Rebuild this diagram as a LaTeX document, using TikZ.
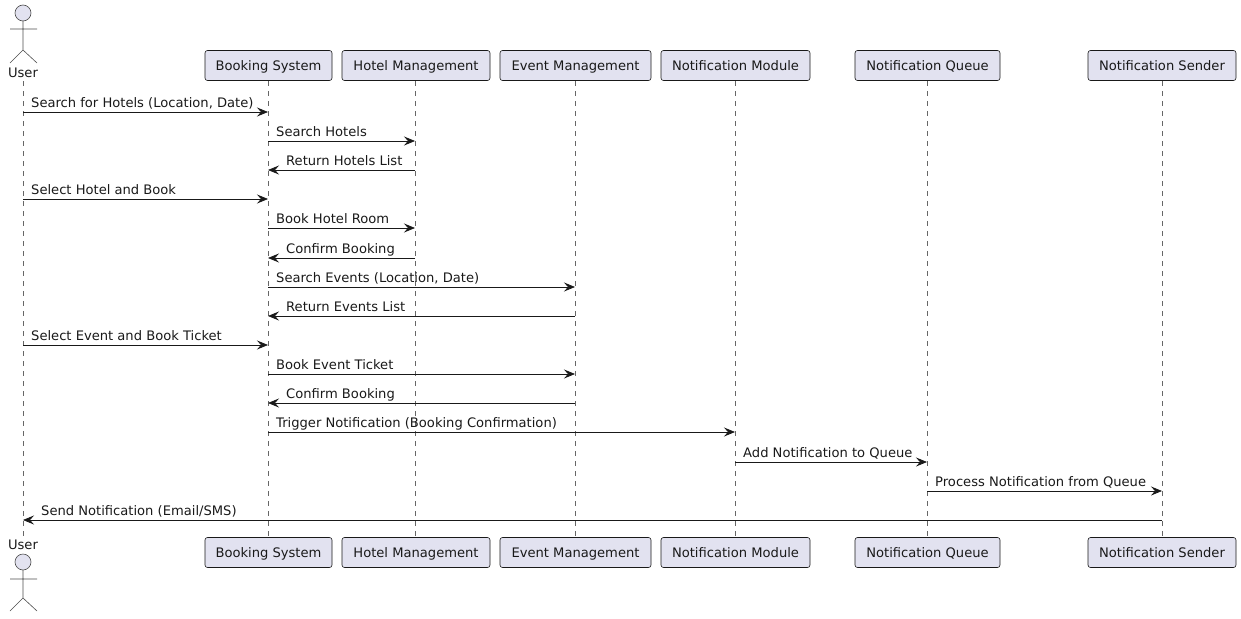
\documentclass[tikz,border=0pt]{standalone}
\usepackage{fontspec}
\setmainfont{DejaVu Sans}
\usetikzlibrary{arrows.meta}
\begin{document}
\begin{tikzpicture}[x=1pt,y=-1pt,
  part/.style={draw=black!90,fill=partfill,rounded corners=2.5pt,line width=0.6pt,
    minimum height=30pt,inner sep=0pt,text height=12pt,text depth=2pt,
    font=\fontsize{13.1}{15}\selectfont,text=black!90},
  lifeline/.style={draw=black!60,line width=0.5pt,dash pattern=on 5pt off 5pt},
  msg/.style={draw=black!90,line width=0.8pt,-{Stealth[length=11pt,width=9pt,inset=4pt]}},
  lbl/.style={anchor=base west,inner sep=0pt,font=\fontsize{13.1}{15}\selectfont,text=black!90},
  actorstyle/.style={draw=black!70,line width=0.6pt},
  actorlbl/.style={inner sep=0pt,font=\fontsize{13.1}{15}\selectfont,text=black!90}]
\definecolor{partfill}{HTML}{E2E2F0}
\useasboundingbox (0,0) rectangle (1241,618);

% participant boxes (top)
\node[part,minimum width=127pt] (bsT) at (268.5,65.5) {Booking System};
\node[part,minimum width=148pt] (hmT) at (416,65.5) {Hotel Management};
\node[part,minimum width=151pt] (emT) at (575.5,65.5) {Event Management};
\node[part,minimum width=149pt] (nmT) at (735.5,65.5) {Notification Module};
\node[part,minimum width=145pt] (nqT) at (927.5,65.5) {Notification Queue};
\node[part,minimum width=148pt] (nsT) at (1162,65.5) {Notification Sender};
% participant boxes (bottom)
\node[part,minimum width=127pt] (bsB) at (268.5,552.5) {Booking System};
\node[part,minimum width=148pt] (hmB) at (416,552.5) {Hotel Management};
\node[part,minimum width=151pt] (emB) at (575.5,552.5) {Event Management};
\node[part,minimum width=149pt] (nmB) at (735.5,552.5) {Notification Module};
\node[part,minimum width=145pt] (nqB) at (927.5,552.5) {Notification Queue};
\node[part,minimum width=148pt] (nsB) at (1162,552.5) {Notification Sender};

% lifeline coordinates
\coordinate (U) at (23,81);
\coordinate (UB) at (23,537);
\coordinate (BS) at (268,81);
\coordinate (HM) at (415,81);
\coordinate (EM) at (575,81);
\coordinate (NM) at (735,81);
\coordinate (NQ) at (927,81);
\coordinate (NS) at (1162,81);

% lifelines
\draw[lifeline] (U) -- (UB);
\draw[lifeline] (BS) -- (BS|-bsB.north);
\draw[lifeline] (HM) -- (HM|-hmB.north);
\draw[lifeline] (EM) -- (EM|-emB.north);
\draw[lifeline] (NM) -- (NM|-nmB.north);
\draw[lifeline] (NQ) -- (NQ|-nqB.north);
\draw[lifeline] (NS) -- (NS|-nsB.north);

% actor top
\draw[actorstyle,fill=partfill] (23,13) circle (8pt);
\draw[actorstyle] (23,21) -- (23,50) (10,29) -- (37,29) (10,63) -- (23,50) -- (37,63);
\node[actorlbl] (userT) at (23,73) {User};
% actor bottom
\node[actorlbl] (userB) at (23,545) {User};
\draw[actorstyle,fill=partfill] (23,562) circle (8pt);
\draw[actorstyle] (23,570) -- (23,598) (10,579) -- (37,579) (10,611) -- (23,598) -- (37,611);

% messages
\draw[msg] (U|-0,112) -- (BS|-0,112);
\node[lbl] at (31,107) {Search for Hotels (Location, Date)};
\draw[msg] (BS|-0,141) -- (HM|-0,141);
\node[lbl] at (276,136) {Search Hotels};
\draw[msg] (HM|-0,170) -- (BS|-0,170);
\node[lbl] at (286,165) {Return Hotels List};
\draw[msg] (U|-0,199) -- (BS|-0,199);
\node[lbl] at (31,194) {Select Hotel and Book};
\draw[msg] (BS|-0,228) -- (HM|-0,228);
\node[lbl] at (276,223) {Book Hotel Room};
\draw[msg] (HM|-0,258) -- (BS|-0,258);
\node[lbl] at (286,253) {Confirm Booking};
\draw[msg] (BS|-0,287) -- (EM|-0,287);
\node[lbl] at (276,282) {Search Events (Location, Date)};
\draw[msg] (EM|-0,316) -- (BS|-0,316);
\node[lbl] at (286,311) {Return Events List};
\draw[msg] (U|-0,345) -- (BS|-0,345);
\node[lbl] at (31,340) {Select Event and Book Ticket};
\draw[msg] (BS|-0,374) -- (EM|-0,374);
\node[lbl] at (276,369) {Book Event Ticket};
\draw[msg] (EM|-0,403) -- (BS|-0,403);
\node[lbl] at (286,398) {Confirm Booking};
\draw[msg] (BS|-0,432) -- (NM|-0,432);
\node[lbl] at (276,427) {Trigger Notification (Booking Confirmation)};
\draw[msg] (NM|-0,462) -- (NQ|-0,462);
\node[lbl] at (743,457) {Add Notification to Queue};
\draw[msg] (NQ|-0,491) -- (NS|-0,491);
\node[lbl] at (935,486) {Process Notification from Queue};
\draw[msg] (NS|-0,520) -- (U|-0,520);
\node[lbl] at (41,515) {Send Notification (Email/SMS)};
\end{tikzpicture}
\end{document}
